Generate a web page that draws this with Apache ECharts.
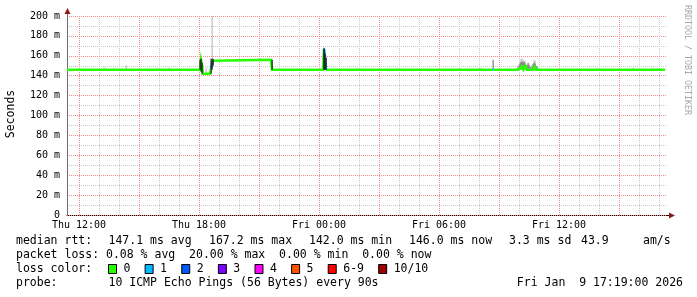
<!DOCTYPE html>
<html><head><meta charset="utf-8">
<script src="https://cdn.jsdelivr.net/npm/echarts@6/dist/echarts.min.js"></script>
<style>html,body{margin:0;padding:0;background:#fff}#c{width:697px;height:297px}</style>
</head><body><div id="c"></div>
<script>
// ---- data (x in hours since Thu 00:00, y in milliseconds) ----
const medianHours = [11.40,18.05,18.10,18.15,18.20,18.55,18.60,18.65,18.70,18.75,21.60,21.65,24.20,24.25,24.30,24.35,32.66,32.72,
  33.95,34.05,34.15,34.22,34.32,34.40,34.50,34.57,34.65,34.70,34.78,34.85,34.92,35.00,41.30];
const medianMs    = [146,146,156,151,142,142,147,152,155,156,156,146,146,167,160,146,146,146,
  146,147,149,146,150,146,148,146,147,146,149,146,148,146,146];
const medianLoss  = [0,0,0,0,0,0,1,1,0,0,0,0,0,1,1,0,1,0,
  0,0,0,0,0,0,0,0,0,0,0,0,0,0,0];

const darkSmokeHours = [18.07,18.10,18.13,18.62,18.66,18.72,21.63,24.23,24.27,24.31,24.34];
const darkSmokeLow   = [146,144,142,142,146,150,146,146,146,146,146];
const darkSmokeHigh  = [156,157,153,157,157,157,156,168,166,162,158];

const midSmokeHours = [32.70,33.95,34.00,34.05,34.10,34.15,34.20,34.25,34.30,34.35,34.40,34.45,34.50,34.55,34.60,34.65,34.70,34.75,34.80,34.85,34.90,34.95];
const midSmokeLow   = [146,146,146,146,146,146,146,146,146,146,146,146,146,146,146,146,146,146,146,146,146,146];
const midSmokeHigh  = [156,149,151,153,154,154,153,154,152,150,151,153,151,149,148,150,152,153,152,150,149,147];

const lightSmokeHours = [13.25,13.75,14.35,16.50,18.35,18.66,31.00,32.05,34.10,34.15,34.20,34.30,34.75,34.80,39.70,40.70];
const lightSmokeLow   = [146,146,146,146,142,157,146,146,146,146,146,146,146,146,146,146];
const lightSmokeHigh  = [148.5,147.5,150.5,148,148,205,147.5,148,157,157,156,155,156,155,148,148];

const xTickHours  = [12,18,24,30,36];
const xTickLabels = ['Thu 12:00','Thu 18:00','Fri 00:00','Fri 06:00','Fri 12:00'];
const yTickValues = [0,20,40,60,80,100,120,140,160,180,200];
const yTickLabels = ['0','20 m','40 m','60 m','80 m','100 m','120 m','140 m','160 m','180 m','200 m'];

const lossLabels = ['0','1','2','3','4','5','6-9','10/10'];
const lossColors = ['#26ff00','#00b8ff','#0059ff','#7e00ff','#ff00ff','#ff5500','#ff0000','#a10000'];

const rttTitle = 'median rtt:';
const rttStats = ['147.1 ms avg','167.2 ms max','142.0 ms min','146.0 ms now','3.3 ms sd','43.9','am/s'];
const lossLine = 'packet loss: 0.08 % avg  20.00 % max  0.00 % min  0.00 % now';
const probeText = '10 ICMP Echo Pings (56 Bytes) every 90s';
const dateText = 'Fri Jan  9 17:19:00 2026';
const watermark = 'RRDTOOL / TOBI OETIKER';
const yTitle = 'Seconds';

// ---- layout ----
const X_MIN = 11.4, X_MAX = 41.4, Y_MIN = 0, Y_MAX = 200;
const MONO = '"DejaVu Sans Mono", monospace';
const RED = '#f38a8a', GRAY = '#c8c8c8';
// grid category axis: one slot per minute across the plotted window
const gridMinutes = Array.from({length: Math.round((X_MAX - X_MIN) * 60) + 1}, (_, i) => Math.round(X_MIN * 60) + i);
const minuteOf = idx => gridMinutes[idx];

function rows(h, lo, hi){ return h.map((v, i) => [v, lo[i], hi[i]]); }
function smokeSeries(data, color, z, w){
  return {
    type:'custom', xAxisIndex:0, yAxisIndex:0, z:z, silent:true,
    data:data, encode:{x:0, y:[1,2]},
    renderItem:function(params, api){
      const x = api.value(0);
      const p0 = api.coord([x, api.value(1)]);
      const p1 = api.coord([x, Math.min(api.value(2), Y_MAX)]);
      return {type:'rect', shape:{x:Math.round(p0[0]) - 0.5, y:p1[1], width:w, height:p0[1]-p1[1]}, style:{fill:color}};
    }
  };
}
function lossSegments(level){
  const out = []; let open = false;
  for (let i = 0; i < medianHours.length - 1; i++){
    if (medianLoss[i] === level){
      if (!open){ out.push([medianHours[i], medianMs[i]]); open = true; }
      out.push([medianHours[i+1], medianMs[i+1]]);
    } else if (open){ out.push([medianHours[i], null]); open = false; }
  }
  return out;
}

const series = [
  smokeSeries(rows(lightSmokeHours, lightSmokeLow, lightSmokeHigh), '#c4c4c4', 2, 1.3),
  smokeSeries(rows(midSmokeHours, midSmokeLow, midSmokeHigh), '#858585', 3, 1.3)
];
const usedLevels = Array.from(new Set(medianLoss));
usedLevels.forEach(L => {
  series.push({type:'line', xAxisIndex:0, yAxisIndex:0, data:lossSegments(L), showSymbol:false, connectNulls:false, z:6+L, silent:true,
    lineStyle:{color:lossColors[L], width:2.5, join:'miter', cap:'butt'}, itemStyle:{color:lossColors[L]}});
});
series.push(smokeSeries(rows(darkSmokeHours, darkSmokeLow, darkSmokeHigh), '#1c1c1c', 12, 1.2));

// legend / text graphics
const g = [];
function txt(x, y, text, opt){
  g.push(Object.assign({type:'text', x:x, y:y, silent:true,
    style:{text:text, font:(opt && opt.font) || ('11.5px ' + MONO), fill:(opt && opt.fill) || '#000',
      textAlign:(opt && opt.align) || 'left', textVerticalAlign:'middle'}}, (opt && opt.extra) || {}));
}
const rttX = [108.5, 209, 309, 409, 509, 581, 643];
txt(16, 241.5, rttTitle);
rttStats.forEach((s, i) => txt(rttX[i], 241.5, s));
txt(16, 255.5, lossLine);
txt(16, 269.5, 'loss color:');
let bx = 108.5;
lossLabels.forEach((lab, i) => {
  g.push({type:'rect', silent:true, shape:{x:bx, y:264.5, width:8, height:9}, style:{fill:lossColors[i], stroke:'#000', lineWidth:1}});
  txt(bx + 15, 269.5, lab);
  bx += 15 + lab.length * 6.92 + 14.7;
});
txt(16, 283.5, 'probe:');
txt(108.5, 283.5, probeText);
txt(683, 283.5, dateText, {align:'right'});
txt(11, 114, yTitle, {extra:{rotation:Math.PI/2}, align:'center'});
txt(687, 5, watermark, {font:'8.3px ' + MONO, fill:'#a8a8a8', extra:{rotation:-Math.PI/2}});
// axis extensions and arrows
g.push({type:'line', silent:true, shape:{x1:67.5, y1:16, x2:67.5, y2:12}, style:{stroke:'#6e6e6e', lineWidth:1}});
g.push({type:'line', silent:true, shape:{x1:667, y1:215.5, x2:670, y2:215.5}, style:{stroke:'#000', lineWidth:1}});
g.push({type:'polygon', silent:true, shape:{points:[[64.5,14],[67.5,8],[70.5,14]]}, style:{fill:'#8b1a1a'}});
g.push({type:'polygon', silent:true, shape:{points:[[669,212.5],[675,215.5],[669,218.5]]}, style:{fill:'#8b1a1a'}});

const dotted = c => ({color:c, type:[1,1], width:1});
const chart = echarts.init(document.getElementById('c'), null, {renderer:'canvas'});
chart.setOption({
  animation:false,
  backgroundColor:'#fff',
  grid:{left:67, right:30, top:16, bottom:82, containLabel:false, outerBoundsMode:'none'},
  xAxis:[
    { // data axis (hours)
      type:'value', min:X_MIN, max:X_MAX, show:false, position:'bottom', splitLine:{show:false}
    },
    { // hourly minor grid
      type:'category', data:gridMinutes, boundaryGap:false, position:'bottom', z:0,
      axisLine:{show:false}, axisTick:{show:false}, axisLabel:{show:false},
      splitLine:{show:true, interval:(i) => minuteOf(i) % 60 === 0 && minuteOf(i) % 180 !== 0, lineStyle:dotted(GRAY)}
    },
    { // 3-hourly major grid, axis line and labels
      type:'category', data:gridMinutes, boundaryGap:false, position:'bottom', z:1,
      axisLine:{show:true, onZero:true, lineStyle:{color:'#000', width:1}},
      axisTick:{show:false},
      axisLabel:{
        show:true, margin:5, color:'#000', fontFamily:MONO, fontSize:10,
        interval:(i) => xTickHours.indexOf(minuteOf(i) / 60) >= 0,
        formatter:function(v){
          const k = xTickHours.indexOf(Number(v) / 60);
          return k >= 0 ? xTickLabels[k] : '';
        }
      },
      splitLine:{show:true, interval:(i) => minuteOf(i) % 180 === 0, lineStyle:dotted(RED)}
    }
  ],
  yAxis:[
    {
      type:'value', min:Y_MIN, max:Y_MAX, interval:20, position:'left', z:2,
      axisLine:{show:true, lineStyle:{color:'#6e6e6e', width:1}},
      axisTick:{show:false},
      axisLabel:{
        margin:7, color:'#000', fontFamily:MONO, fontSize:10, showMinLabel:true, showMaxLabel:true,
        formatter:function(v){
          const k = yTickValues.findIndex(t => Math.abs(t - v) < 1e-6);
          return k >= 0 ? yTickLabels[k] : '';
        }
      },
      splitLine:{show:true, lineStyle:dotted(RED)}
    },
    {
      type:'value', min:Y_MIN, max:Y_MAX, interval:10, position:'left', z:0,
      axisLine:{show:false}, axisTick:{show:false}, axisLabel:{show:false},
      splitLine:{show:true, lineStyle:dotted(GRAY)}
    }
  ],
  series:series,
  graphic:g
});
</script>
</body></html>
